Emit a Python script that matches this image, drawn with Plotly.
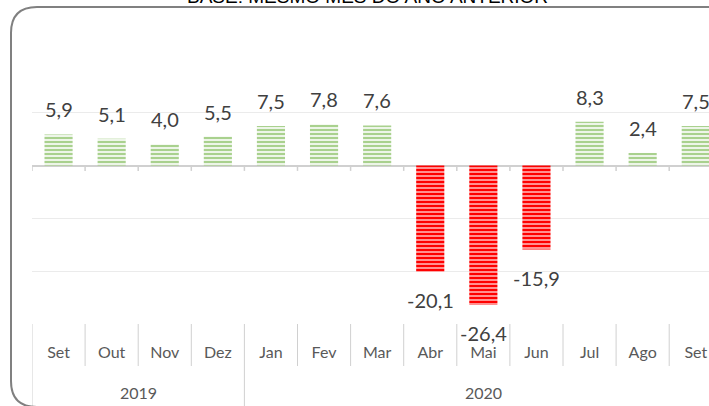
import plotly.graph_objects as go

months = ["Set", "Out", "Nov", "Dez", "Jan", "Fev", "Mar", "Abr", "Mai", "Jun", "Jul", "Ago", "Set"]
years = ["2019", "2019", "2019", "2019", "2020", "2020", "2020", "2020", "2020", "2020", "2020", "2020", "2020"]
values = [5.9, 5.1, 4.0, 5.5, 7.5, 7.8, 7.6, -20.1, -26.4, -15.9, 8.3, 2.4, 7.5]
title_text = "BASE: MESMO MÊS DO ANO ANTERIOR"

W, H = 709, 406
ML, MT, MB = 32, 60, 82
PW = W - ML
PH = H - MT - MB
cat_w = 53.1

def px_x(p):
    return (p - ML) / PW

def px_y(p):
    return (MT + PH - p) / PH

xs = list(range(len(months)))
pos_x = [x for x, v in zip(xs, values) if v >= 0]
pos_v = [v for v in values if v >= 0]
neg_x = [x for x, v in zip(xs, values) if v < 0]
neg_v = [v for v in values if v < 0]

FONT = "Lato"
fig = go.Figure()
fig.add_trace(go.Bar(
    x=pos_x, y=pos_v, width=0.53,
    marker=dict(color="#a9d18e", line=dict(width=0),
                pattern=dict(shape="-", fgcolor="#a9d18e", bgcolor="#ffffff",
                             size=4, solidity=0.6, fillmode="replace")),
    hoverinfo="skip", showlegend=False))
fig.add_trace(go.Bar(
    x=neg_x, y=neg_v, width=0.53,
    marker=dict(color="#ff0000", line=dict(width=0),
                pattern=dict(shape="-", fgcolor="#ff0000", bgcolor="#fff0f0",
                             size=4, solidity=0.7, fillmode="replace")),
    hoverinfo="skip", showlegend=False))

annotations = []
for x, v in zip(xs, values):
    annotations.append(dict(
        x=x, y=v, xref="x", yref="y",
        text=f"{v:.1f}".replace(".", ","),
        showarrow=False, yshift=25 if v >= 0 else -28,
        font=dict(family=FONT, size=20, color="#404040")))

# year labels
year_names = []
for y in years:
    if y not in year_names:
        year_names.append(y)
for yn in year_names:
    idx = [i for i, y in enumerate(years) if y == yn]
    annotations.append(dict(
        x=(idx[0] + idx[-1]) / 2, y=px_y(393), xref="x", yref="paper",
        text=yn, showarrow=False, yanchor="middle",
        font=dict(family=FONT, size=16, color="#595959")))

# title (cut at top)
annotations.append(dict(
    x=px_x(367), y=px_y(9), xref="paper", yref="paper",
    text=title_text, showarrow=False, yanchor="bottom", xanchor="center",
    font=dict(family="Arial", size=19, color="#000000")))

shapes = []
# zero-line ticks at category boundaries
for i in range(len(months) + 1):
    shapes.append(dict(type="line", xref="x", yref="y",
                       x0=i - 0.5, x1=i - 0.5, y0=0, y1=-1.0,
                       line=dict(color="#d0d0d0", width=1.5)))
# separators in category area
for i in range(len(months) + 1):
    xb = i - 0.5
    is_year_break = (i == 0) or (i < len(months) and years[i] != years[i - 1])
    y_end = px_y(H) if is_year_break else px_y(366)
    shapes.append(dict(type="line", xref="x", yref="paper",
                       x0=xb, x1=xb, y0=0, y1=y_end,
                       line=dict(color="#d0d0d0", width=1)))
# rounded border
l, t, b, r, rad = 11, 7, 407, 760, 26
path = (f"M {px_x(l)},{px_y(b - rad)} "
        f"L {px_x(l)},{px_y(t + rad)} "
        f"Q {px_x(l)},{px_y(t)} {px_x(l + rad)},{px_y(t)} "
        f"L {px_x(r)},{px_y(t)} "
        f"M {px_x(l)},{px_y(b - rad)} "
        f"Q {px_x(l)},{px_y(b)} {px_x(l + rad)},{px_y(b)} "
        f"L {px_x(r)},{px_y(b)}")
shapes.append(dict(type="path", xref="paper", yref="paper", path=path,
                   line=dict(color="#808080", width=2)))

fig.update_layout(
    width=W, height=H,
    margin=dict(l=ML, r=0, t=MT, b=MB, pad=0),
    paper_bgcolor="white", plot_bgcolor="white",
    barmode="overlay",
    annotations=annotations, shapes=shapes,
    xaxis=dict(range=[-0.5, -0.5 + PW / cat_w], tickvals=xs, ticktext=months,
               showgrid=False, zeroline=False, showline=False, ticks="",
               ticklabelstandoff=17,
               tickfont=dict(family=FONT, size=16, color="#595959"),
               fixedrange=True),
    yaxis=dict(range=[-30, 20], dtick=10, showticklabels=False,
               showgrid=True, gridcolor="#ebebeb", gridwidth=1,
               zeroline=True, zerolinecolor="#d0d0d0", zerolinewidth=1.5,
               fixedrange=True),
    font=dict(family=FONT),
)

fig.write_html("out.html", config={"displayModeBar": False},
               post_script="document.body.style.margin='0';document.body.style.overflow='hidden';")
